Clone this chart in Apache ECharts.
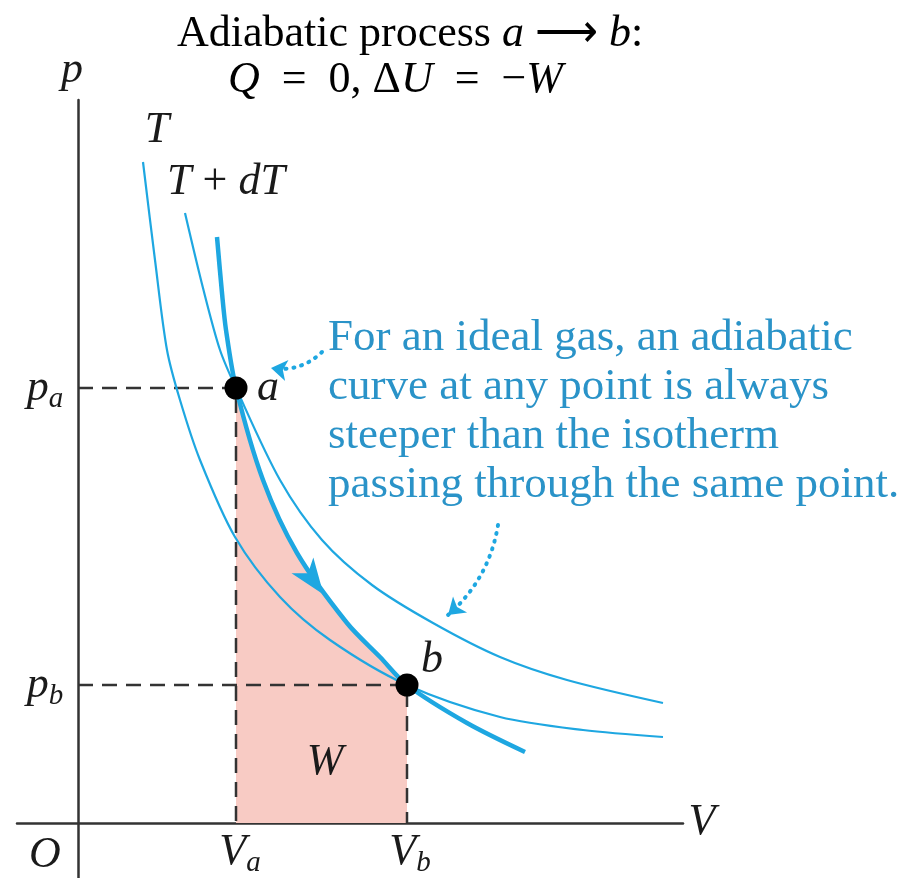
<!DOCTYPE html>
<html>
<head>
<meta charset="utf-8">
<script src="https://cdn.jsdelivr.net/npm/echarts@6/dist/echarts.min.js"></script>
<style>
  html, body { margin: 0; padding: 0; background: #ffffff; }
  #chart { width: 908px; height: 878px; }
</style>
</head>
<body>
<div id="chart"></div>
<script>
// p–V diagram of an adiabatic expansion a -> b between two isotherms.
// Volumes and pressures are in arbitrary units.

// Isotherm at the lower temperature T (passes through b)
const isothermT = [
  [0.65, 6.61], [0.77, 5.63], [0.89, 4.73], [1.02, 4.23], [1.22, 3.63],
  [1.57, 2.86], [2.02, 2.26], [2.52, 1.83], [3.29, 1.38], [4.22, 1.06],
  [5.05, 0.93], [5.85, 0.86]
];
// Isotherm at the higher temperature T + dT (passes through a)
const isothermTdT = [
  [1.07, 6.10], [1.25, 5.35], [1.42, 4.73], [1.58, 4.35], [2.02, 3.43],
  [2.44, 2.83], [2.94, 2.38], [3.55, 2.00], [4.22, 1.66], [4.89, 1.43],
  [5.85, 1.20]
];
// Adiabatic curve through a and b
const adiabat = [
  [1.39, 5.86], [1.44, 5.30], [1.48, 4.93], [1.58, 4.35], [1.85, 3.43],
  [2.19, 2.70], [2.69, 2.00], [3.02, 1.66], [3.29, 1.38], [3.89, 1.00],
  [4.47, 0.71]
];
// Part of the adiabat from a to b, the work W is the area beneath it
const adiabatAB = [
  [1.58, 4.35], [1.85, 3.43], [2.19, 2.70], [2.69, 2.00], [3.02, 1.66],
  [3.29, 1.38]
];
// States a and b: [V, p]
const stateA = [1.58, 4.35];
const stateB = [3.29, 1.38];
// Direction arrow on the adiabat
const flowArrow = [2.35, 2.43];
// Dotted pointers from the note to the curves: [from, to]
const pointers = [
  [[2.44, 4.71], [1.93, 4.55]],
  [[4.20, 2.98], [3.70, 2.08]]
];

const serif = "'Liberation Serif', 'Times New Roman', serif";
const ink = '#1a1a1a';
const cyan = '#1ea7e1';
const noteBlue = '#2a93c8';

const rich = {
  it:  { fontFamily: serif, fontStyle: 'italic', fontSize: 44, color: ink },
  rm:  { fontFamily: serif, fontSize: 44, color: ink },
  sub: { fontFamily: serif, fontStyle: 'italic', fontSize: 29, color: ink, padding: [22, 0, 0, 0] }
};

// Text labels anchored in data space
const textLabels = [
  { value: [-0.06, 7.53], t: '{it|p}' },
  { value: [0.79, 6.93], t: '{it|T}' },
  { value: [1.48, 6.41], t: '{it|T}{rm| + }{it|dT}' },
  { value: [stateA[0] + 0.32, stateA[1]], t: '{it|a}' },
  { value: [stateB[0] + 0.25, stateB[1] + 0.25], t: '{it|b}' },
  { value: [-0.33, stateA[1]], t: '{it|p}{sub|a}' },
  { value: [-0.33, stateB[1]], t: '{it|p}{sub|b}' },
  { value: [-0.33, -0.32], t: '{it|O}' },
  { value: [stateA[0] + 0.04, -0.29], t: '{it|V}{sub|a}' },
  { value: [stateB[0] + 0.03, -0.29], t: '{it|V}{sub|b}' },
  { value: [6.24, 0.01], t: '{it|V}' },
  { value: [2.47, 0.61], t: '{it|W}' }
];

const dashStyle = { color: '#333333', width: 2.5, type: [15, 9] };

const chart = echarts.init(document.getElementById('chart'), null, { renderer: 'canvas' });

chart.setOption({
  animation: false,
  backgroundColor: '#ffffff',
  grid: { left: 17, right: 225, top: 100, bottom: 0 },
  xAxis: {
    type: 'value', min: -0.61, max: 6.05,
    axisLine: { onZero: true, lineStyle: { color: '#333333', width: 2.5 } },
    axisTick: { show: false }, axisLabel: { show: false }, splitLine: { show: false }
  },
  yAxis: {
    type: 'value', min: -0.55, max: 7.23,
    axisLine: { onZero: true, lineStyle: { color: '#333333', width: 2.5 } },
    axisTick: { show: false }, axisLabel: { show: false }, splitLine: { show: false }
  },
  graphic: [
    {
      type: 'text', left: 177, top: 12, z: 10,
      style: {
        text: '{rm|Adiabatic process }{it|a}{rm| \u27F6 }{it|b}{rm|:}',
        rich: rich
      }
    },
    {
      type: 'text', top: 58, left: 228, z: 10,
      style: {
        text: '{it|Q}{rm|\u2002=\u20020, \u0394}{it|U}{rm|\u2002=\u2002\u2212}{it|W}',
        rich: rich
      }
    },
    {
      type: 'text', left: 328, top: 314, z: 10,
      style: {
        text: 'For an ideal gas, an adiabatic\ncurve at any point is always\nsteeper than the isotherm\npassing through the same point.',
        fontFamily: serif, fontSize: 45, lineHeight: 49, fill: noteBlue
      }
    }
  ],
  series: [
    {
      name: 'W', type: 'line', data: adiabatAB, smooth: 0.3, symbol: 'none', z: 1,
      lineStyle: { width: 0 },
      areaStyle: { color: '#f8cbc4', opacity: 1, origin: 'auto' }
    },
    {
      name: 'pa', type: 'line', data: [[0, stateA[1]], stateA, [stateA[0], 0]],
      symbol: 'none', z: 2, lineStyle: dashStyle
    },
    {
      name: 'pb', type: 'line', data: [[0, stateB[1]], stateB, [stateB[0], 0]],
      symbol: 'none', z: 2, lineStyle: dashStyle
    },
    {
      name: 'T', type: 'line', data: isothermT, smooth: 0.3, symbol: 'none', z: 3,
      lineStyle: { color: cyan, width: 2.2 }
    },
    {
      name: 'T + dT', type: 'line', data: isothermTdT, smooth: 0.3, symbol: 'none', z: 3,
      lineStyle: { color: cyan, width: 2.2 }
    },
    {
      name: 'adiabat', type: 'line', data: adiabat, smooth: 0.3, symbol: 'none', z: 4,
      lineStyle: { color: cyan, width: 4.5 }
    },
    {
      name: 'direction', type: 'scatter', data: [flowArrow], z: 5,
      symbol: 'path://M0,0 L12,34 L0,25 L-12,34 Z',
      symbolSize: [27, 36], symbolRotate: -144,
      itemStyle: { color: cyan, opacity: 1 }
    },
    {
      name: 'pointers', type: 'lines', coordinateSystem: 'cartesian2d', z: 5,
      symbol: ['none', 'arrow'], symbolSize: 16,
      lineStyle: { color: cyan, width: 4, type: [1, 7], cap: 'round', curveness: 0.2, opacity: 1 },
      data: [
        { coords: pointers[0], lineStyle: { curveness: 0.25 } },
        { coords: pointers[1], lineStyle: { curveness: 0.18 } }
      ]
    },
    {
      name: 'states', type: 'scatter', data: [stateA, stateB], z: 6,
      symbol: 'circle', symbolSize: 23, itemStyle: { color: '#000000', opacity: 1 }
    },
    {
      name: 'labels', type: 'scatter', clip: false, z: 7, symbolSize: 0,
      itemStyle: { opacity: 1 },
      data: textLabels.map(d => ({ value: d.value, label: { formatter: d.t } })),
      label: { show: true, position: 'inside', rich: rich, textBorderWidth: 0, opacity: 1 }
    }
  ]
});
</script>
</body>
</html>
